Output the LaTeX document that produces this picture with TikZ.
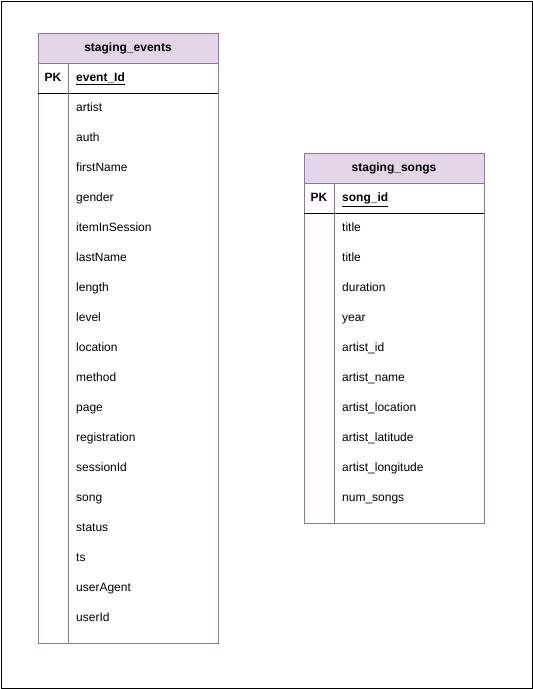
\documentclass[tikz,border=0pt]{standalone}
\usepackage{fontspec}
\setmainfont{Liberation Sans}
\definecolor{hdrfill}{HTML}{E1D5E7}
\definecolor{hdrline}{HTML}{9673A6}
\begin{document}
\begin{tikzpicture}[x=1pt,y=-1pt,
  field/.style={anchor=west,inner sep=0pt,text height=8.6pt,text depth=2.4pt,font=\fontsize{12}{14}\selectfont},
  title/.style={inner sep=0pt,text height=8.6pt,text depth=2.4pt,font=\fontsize{12}{14}\selectfont\bfseries},
  frame/.style={draw=hdrline,line width=0.8pt},
]
\useasboundingbox (0,0) rectangle (533,689);
\node[draw=black,line width=1pt,minimum width=531pt,minimum height=687pt,inner sep=0pt,anchor=north west] (border) at (0.5,0.5) {};

\newcommand{\ertable}[7]{%
  % #1 name, #2 x, #3 y, #4 title, #5 pk, #6 number of fields, #7 list
  \pgfmathsetmacro{\bot}{#3+60+#6*30+10}
  \fill[hdrfill] (#2,#3) rectangle (#2+180,#3+30);
  \draw[frame] (#2,#3) rectangle (#2+180,\bot);
  \draw[frame] (#2,#3+30) -- (#2+180,#3+30);
  \draw[black,line width=0.8pt] (#2,#3+60) -- (#2+180,#3+60);
  \draw[frame] (#2+30,#3+30) -- (#2+30,\bot);
  \node[title] (#1-title) at (#2+90,#3+15.7) {#4};
  \node[title] (#1-pkl) at (#2+15,#3+45.7) {PK};
  \node[title,anchor=west] (#1-pk) at (#2+38,#3+45.7) {\underline{#5}};
  \foreach \f [count=\i] in {#7} {
    \node[field] (#1-f\i) at (#2+38,#3+45.7+\i*30) {\f};
  }
}
\ertable{ev}{38}{33}{staging\_events}{event\_Id}{18}{artist,auth,firstName,gender,itemInSession,lastName,length,level,location,method,page,registration,sessionId,song,status,ts,userAgent,userId}
\ertable{so}{304}{153}{staging\_songs}{song\_id}{10}{title,title,duration,year,artist\_id,artist\_name,artist\_location,artist\_latitude,artist\_longitude,num\_songs}
\end{tikzpicture}
\end{document}
